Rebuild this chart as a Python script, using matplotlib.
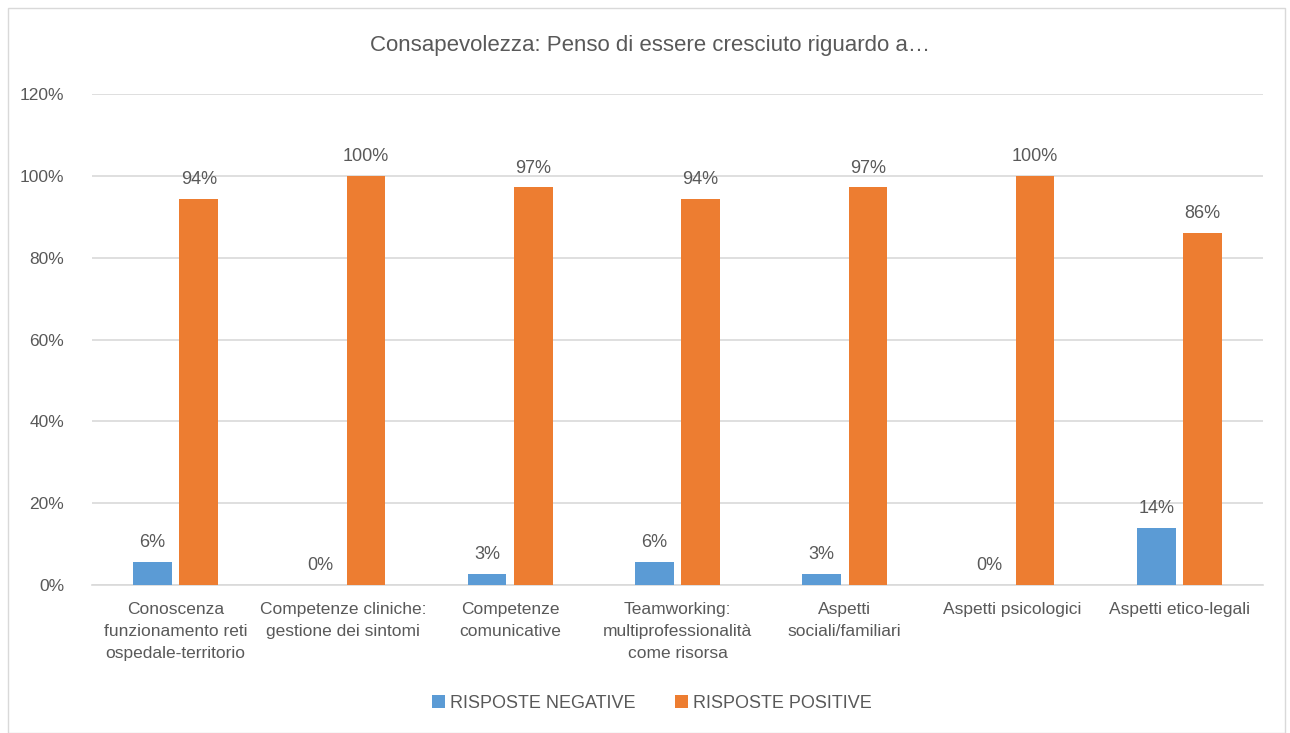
import numpy as np
import matplotlib.pyplot as plt
from matplotlib.patches import Rectangle

plt.rcParams['font.family'] = ['Liberation Sans Narrow', 'Liberation Sans', 'DejaVu Sans']

categorie = ['Conoscenza\nfunzionamento reti\nospedale-territorio',
             'Competenze cliniche:\ngestione dei sintomi',
             'Competenze\ncomunicative',
             'Teamworking:\nmultiprofessionalità\ncome risorsa',
             'Aspetti\nsociali/familiari',
             'Aspetti psicologici',
             'Aspetti etico-legali']
negative = [5.6, 0.0, 2.8, 5.6, 2.8, 0.0, 13.9]
positive = [94.4, 100.0, 97.2, 94.4, 97.2, 100.0, 86.1]
neg_lab = ['6%', '0%', '3%', '6%', '3%', '0%', '14%']
pos_lab = ['94%', '100%', '97%', '94%', '97%', '100%', '86%']

grigio = '#595959'
blu = '#5b9bd5'
arancio = '#ed7d31'

fig = plt.figure(figsize=(12.9, 7.33), dpi=100)
fig.patches.append(Rectangle((8/1290, 0), 1277/1290, 1 - 8/733, transform=fig.transFigure,
                             fill=False, edgecolor='#d9d9d9', linewidth=1))
ax = fig.add_axes([92/1290, 1 - 585/733, 1171/1290, (585 - 94)/733])

x = np.arange(len(categorie))
w = 0.23
off = 0.138
ax.bar(x - off, negative, w, color=blu, label='RISPOSTE NEGATIVE', zorder=3)
ax.bar(x + off, positive, w, color=arancio, label='RISPOSTE POSITIVE', zorder=3)

for i in range(len(x)):
    ax.text(x[i] - off, negative[i] + 2.6, neg_lab[i], ha='center', va='bottom',
            fontsize=13, color=grigio)
    ax.text(x[i] + off, positive[i] + 2.6, pos_lab[i], ha='center', va='bottom',
            fontsize=13, color=grigio)

ax.set_xlim(-0.5, len(x) - 0.5)
ax.set_ylim(0, 120)
ax.set_yticks(np.arange(0, 121, 20))
ax.set_yticklabels([f'{v}%' for v in range(0, 121, 20)])
ax.set_xticks(x)
ax.set_xticklabels(categorie)
for lab in ax.get_xticklabels():
    lab.set_linespacing(1.6)
ax.tick_params(axis='both', length=0, labelsize=12.5, colors=grigio)
ax.tick_params(axis='x', pad=12)
ax.tick_params(axis='y', pad=20)
ax.grid(axis='y', color='#d9d9d9', linewidth=1.2, zorder=0)
for s in ['top', 'right', 'left']:
    ax.spines[s].set_visible(False)
ax.spines['bottom'].set_color('#d9d9d9')
ax.spines['bottom'].set_linewidth(1.2)

fig.text(650/1290, 1 - 46/733, 'Consapevolezza: Penso di essere cresciuto riguardo a…',
         ha='center', va='center', fontsize=16, color=grigio)

fig.legend(loc='center', bbox_to_anchor=(652/1290, 1 - 703/733), ncol=2, frameon=False,
           fontsize=13, labelcolor=grigio, handlelength=0.7, handleheight=0.7,
           handletextpad=0.3, columnspacing=2.2)

fig.savefig('out.png', dpi=100)
